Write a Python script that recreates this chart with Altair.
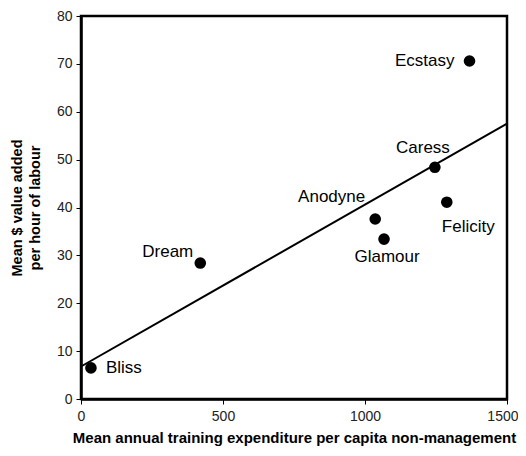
import altair as alt
import pandas as pd

names = ["Bliss", "Dream", "Anodyne", "Glamour", "Caress", "Felicity", "Ecstasy"]
expenditure = [35, 420, 1036, 1067, 1246, 1288, 1368]
value_added = [6.5, 28.4, 37.6, 33.4, 48.4, 41.1, 70.6]

df = pd.DataFrame({"name": names, "x": expenditure, "y": value_added})

FONT = "Liberation Sans"

xs = alt.Scale(domain=[0, 1500], nice=False, zero=True)
ys = alt.Scale(domain=[0, 80], nice=False)

base = alt.Chart(df)

points = base.mark_circle(size=135, color="black", opacity=1).encode(
    x=alt.X("x:Q", scale=xs,
            axis=alt.Axis(values=[0, 500, 1000, 1500], grid=False, format="d",
                          title="Mean annual training expenditure per capita non-management",
                          titleFont=FONT, titleFontSize=15, titleFontWeight="bold",
                          titleColor="black", titlePadding=7,
                          labelFont=FONT, labelFontSize=14, labelColor="#222",
                          labelPadding=5, tickColor="black", tickSize=5,
                          labelAlign=alt.expr("datum.value == 1500 ? 'right' : 'center'"),
                          labelOffset=alt.expr("datum.value == 1500 ? 11 : 0"),
                          domainColor="black", domainWidth=2.5, labelFlush=False)),
    y=alt.Y("y:Q", scale=ys,
            axis=alt.Axis(values=list(range(0, 81, 10)), grid=False, format="d",
                          title=["Mean $ value added", "per hour of labour"],
                          titleFont=FONT, titleFontSize=14.5, titleFontWeight="bold",
                          titleColor="black", titlePadding=14, titleLineHeight=18,
                          labelFont=FONT, labelFontSize=14, labelColor="#222",
                          labelPadding=4, tickColor="black", tickSize=5,
                          domainColor="black", domainWidth=2.5, labelFlush=False)),
)

line = base.transform_regression("x", "y", extent=[0, 1500]).mark_line(
    color="black", strokeWidth=2
).encode(x=alt.X("x:Q", scale=xs), y=alt.Y("y:Q", scale=ys))

label_style = {
    "Bliss": dict(align="left", dx=15, dy=0),
    "Dream": dict(align="right", dx=-7, dy=-11),
    "Anodyne": dict(align="right", dx=-10, dy=-22),
    "Glamour": dict(align="center", dx=3, dy=18),
    "Caress": dict(align="right", dx=15, dy=-19),
    "Felicity": dict(align="left", dx=-5, dy=25),
    "Ecstasy": dict(align="right", dx=-15, dy=0),
}

labels = []
for n, st in label_style.items():
    labels.append(
        base.transform_filter(alt.datum.name == n).mark_text(
            font=FONT, fontSize=17, color="black", baseline="middle", **st
        ).encode(x=alt.X("x:Q", scale=xs), y=alt.Y("y:Q", scale=ys), text="name:N")
    )

chart = alt.layer(line, points, *labels).properties(
    width=426, height=383,
    padding={"left": 73, "top": 8, "right": 11, "bottom": 49},
    autosize=alt.AutoSizeParams(type="none"),
    background="white",
).configure_view(stroke="black", strokeWidth=2.5)

chart.save("out.html", embed_options={"renderer": "svg", "actions": False})
